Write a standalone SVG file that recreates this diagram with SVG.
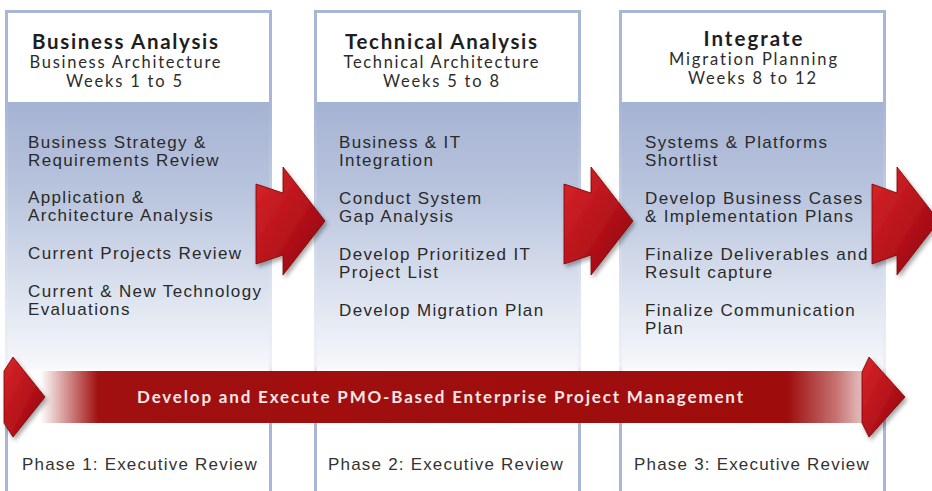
<svg xmlns="http://www.w3.org/2000/svg" width="932" height="491" viewBox="0 0 932 491">
  <defs>
    <linearGradient id="bodyGrad" x1="0" y1="103" x2="0" y2="372" gradientUnits="userSpaceOnUse">
      <stop offset="0" stop-color="#a5b3d3"/>
      <stop offset="0.35" stop-color="#bac5de"/>
      <stop offset="0.75" stop-color="#e0e6f1"/>
      <stop offset="0.98" stop-color="#f6f7fb"/>
      <stop offset="1" stop-color="#ffffff"/>
    </linearGradient>
    <linearGradient id="borderGrad" x1="0" y1="10" x2="0" y2="491" gradientUnits="userSpaceOnUse">
      <stop offset="0" stop-color="#a9b6d6"/>
      <stop offset="0.2" stop-color="#a9b6d6"/>
      <stop offset="0.62" stop-color="#e3e8f2"/>
      <stop offset="0.74" stop-color="#eef1f7"/>
      <stop offset="0.8" stop-color="#a9b6d6"/>
      <stop offset="1" stop-color="#a9b6d6"/>
    </linearGradient>
    <linearGradient id="bandGrad" x1="40" y1="0" x2="870" y2="0" gradientUnits="userSpaceOnUse">
      <stop offset="0" stop-color="#ffffff"/>
      <stop offset="0.07" stop-color="#a11010"/>
      <stop offset="0.9" stop-color="#9e0c0c"/>
      <stop offset="0.96" stop-color="#c77373"/>
      <stop offset="1" stop-color="#eed6d6"/>
    </linearGradient>
    <linearGradient id="redGrad" x1="0" y1="0" x2="1" y2="1">
      <stop offset="0" stop-color="#d8262a"/>
      <stop offset="0.55" stop-color="#b5121a"/>
      <stop offset="1" stop-color="#860606"/>
    </linearGradient>
    <filter id="shadow" x="-20%" y="-20%" width="150%" height="150%">
      <feDropShadow dx="2" dy="3" stdDeviation="2" flood-color="#000" flood-opacity="0.35"/>
    </filter>
  </defs>
  <style>
    .col { fill: url(#bodyGrad); stroke: url(#borderGrad); stroke-width: 3; }
    .hdr { fill: #ffffff; }
    .title { font-family: Lato, "Liberation Sans", sans-serif; font-weight: bold; font-size: 20.5px; fill: #1e1e1e; text-anchor: middle; font-variant-ligatures: none; }
    .sub { font-family: Lato, "Liberation Sans", sans-serif; font-size: 16.5px; fill: #2c2c2c; text-anchor: middle; font-variant-ligatures: none; }
    .item { font-family: "Liberation Sans", Arial, sans-serif; font-size: 17px; letter-spacing: 1.35px; fill: #2a2a2a; }
    .phase { font-family: "Liberation Sans", Arial, sans-serif; font-size: 17px; letter-spacing: 1.2px; fill: #333333; }
    .band { font-family: Lato, "Liberation Sans", sans-serif; font-weight: bold; font-size: 17px; fill: #f6e6e6; font-variant-ligatures: none; }
    .red { fill: url(#redGrad); stroke: #7a0404; stroke-width: 0.8; filter: url(#shadow); }
  </style>
  <rect width="932" height="491" fill="#ffffff"/>

  <g id="col1">
    <rect class="col" x="6.5" y="11.5" width="264" height="490"/>
    <rect class="hdr" x="8" y="13" width="261" height="89"/>
    <text class="title" x="125" y="49" textLength="186" lengthAdjust="spacing">Business Analysis</text>
    <text class="sub" x="125" y="68" textLength="191" lengthAdjust="spacing">Business Architecture</text>
    <text class="sub" x="124" y="87" textLength="116" lengthAdjust="spacing">Weeks 1 to 5</text>
    <text class="item" x="28" y="148">Business Strategy &amp;</text>
    <text class="item" x="28" y="166">Requirements Review</text>
    <text class="item" x="28" y="203">Application &amp;</text>
    <text class="item" x="28" y="221">Architecture Analysis</text>
    <text class="item" x="28" y="259">Current Projects Review</text>
    <text class="item" x="28" y="297">Current &amp; New Technology</text>
    <text class="item" x="28" y="315">Evaluations</text>
    <text class="phase" x="22" y="470">Phase 1: Executive Review</text>
  </g>

  <g id="col2">
    <rect class="col" x="315.5" y="11.5" width="264" height="490"/>
    <rect class="hdr" x="317" y="13" width="261" height="89"/>
    <text class="title" x="441" y="49" textLength="192" lengthAdjust="spacing">Technical Analysis</text>
    <text class="sub" x="441" y="68" textLength="195" lengthAdjust="spacing">Technical Architecture</text>
    <text class="sub" x="441" y="87" textLength="116" lengthAdjust="spacing">Weeks 5 to 8</text>
    <text class="item" x="339" y="148">Business &amp; IT</text>
    <text class="item" x="339" y="166">Integration</text>
    <text class="item" x="339" y="204">Conduct System</text>
    <text class="item" x="339" y="222">Gap Analysis</text>
    <text class="item" x="339" y="260">Develop Prioritized IT</text>
    <text class="item" x="339" y="278">Project List</text>
    <text class="item" x="339" y="316">Develop Migration Plan</text>
    <text class="phase" x="328" y="470">Phase 2: Executive Review</text>
  </g>

  <g id="col3">
    <rect class="col" x="620.5" y="11.5" width="264" height="490"/>
    <rect class="hdr" x="622" y="13" width="261" height="89"/>
    <text class="title" x="753" y="46" textLength="99" lengthAdjust="spacing">Integrate</text>
    <text class="sub" x="753" y="65" textLength="168" lengthAdjust="spacing">Migration Planning</text>
    <text class="sub" x="752" y="84" textLength="128" lengthAdjust="spacing">Weeks 8 to 12</text>
    <text class="item" x="645" y="148">Systems &amp; Platforms</text>
    <text class="item" x="645" y="166">Shortlist</text>
    <text class="item" x="645" y="204">Develop Business Cases</text>
    <text class="item" x="645" y="222">&amp; Implementation Plans</text>
    <text class="item" x="645" y="260">Finalize Deliverables and</text>
    <text class="item" x="645" y="278">Result capture</text>
    <text class="item" x="645" y="316">Finalize Communication</text>
    <text class="item" x="645" y="334">Plan</text>
    <text class="phase" x="634" y="470">Phase 3: Executive Review</text>
  </g>

  <g id="banner">
    <rect x="40" y="371" width="826" height="52" fill="url(#bandGrad)"/>
    <polygon class="red" points="4,371 13,357 45,397 13,437 4,423"/>
    <polygon class="red" points="862,372 869,357 905,397 869,437 862,423"/>
    <text class="band" x="137" y="403" textLength="606" lengthAdjust="spacing">Develop and Execute PMO-Based Enterprise Project Management</text>
  </g>

  <g id="connectors">
    <polygon class="red" points="256,184 283,193 283,167 325,221 283,275 283,255 256,264"/>
    <polygon class="red" points="564,184 591,193 591,167 633,221 591,275 591,255 564,264"/>
    <polygon class="red" points="872,184 897,193 897,167 939,221 897,275 897,255 872,264"/>
  </g>
</svg>
